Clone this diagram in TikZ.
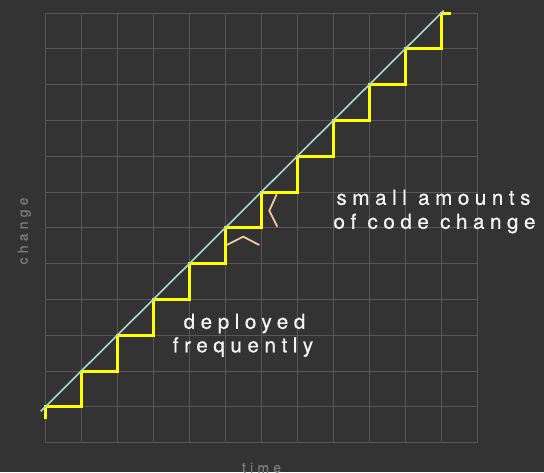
\documentclass[tikz,border=0pt]{standalone}
\usepackage{fontspec}
\setmainfont{TeX Gyre Heros}
\newfontfamily\notefont[LetterSpace=27,FakeBold=0.7]{TeX Gyre Heros}
\newfontfamily\axisfont[LetterSpace=30,FakeBold=0.4]{TeX Gyre Heros}

\definecolor{bgdark}{HTML}{333333}
\definecolor{gridgray}{HTML}{575757}
\definecolor{stepyellow}{HTML}{FFFF00}
\definecolor{trendcyan}{HTML}{A6D9D5}
\definecolor{markpeach}{HTML}{F2C79E}
\definecolor{notewhite}{HTML}{F4F4F4}
\definecolor{axisgray}{HTML}{7A7A7A}

\tikzset{
  gridline/.style={draw=gridgray, line width=1pt},
  stairs/.style={draw=stepyellow, line width=3pt, line join=miter},
  trend/.style={draw=trendcyan, line width=1.6pt},
  tick mark/.style={draw=markpeach, line width=1.8pt, line join=miter},
  note/.style={text=notewhite, inner sep=0pt, anchor=base,
    font=\notefont\fontsize{20.6}{20.6}\selectfont},
  axislabel/.style={text=axisgray, inner sep=0pt, anchor=base,
    font=\axisfont\fontsize{14}{14}\selectfont},
}

\begin{document}
\begin{tikzpicture}[x=1pt,y=-1pt]
  % canvas
  \fill[bgdark] (0,0) rectangle (544,472);
  \useasboundingbox (0,0) rectangle (544,472);

  % 12 x 12 grid
  \def\gx{45.3}\def\gy{13}\def\cw{36}\def\ch{35.8}
  \foreach \i in {0,...,12}{
    \draw[gridline] ({\gx+\cw*\i},{\gy}) -- ({\gx+\cw*\i},{\gy+12*\ch});
    \draw[gridline] ({\gx},{\gy+\ch*\i}) -- ({\gx+12*\cw},{\gy+\ch*\i});
  }

  % frequent small deployments: a staircase along the grid
  \draw[stairs] ({\gx},{\gy+11*\ch+12}) -- ({\gx},{\gy+11*\ch})
    \foreach \k in {1,...,11}{
      -- ({\gx+\cw*\k},{\gy+\ch*(12-\k)}) -- ({\gx+\cw*\k},{\gy+\ch*(11-\k)})
    }
    -- ({\gx+11*\cw+10},{\gy});

  % steady trend line through the step corners
  \draw[trend] ({\gx-4.6},{\gy+11*\ch+4.6}) -- ({\gx+11*\cw+2.4},{\gy-2.4});

  % small marks pointing at one step
  \draw[tick mark] (226.7,245) -- (243.3,236.7) -- (259.3,245);
  \draw[tick mark] (276.7,194.3) -- (269.3,210.7) -- (277.3,226.7);

  % annotations
  \node[note] (amounts) at (433.5,204.8) {small amounts};
  \node[note] (codechange) at (434.5,228.8) {of code change};
  \node[note] (deployed) at (244.5,328.8) {deployed};
  \node[note] (frequently) at (243,352.3) {frequently};

  % axis labels
  \node[axislabel] (timelabel) at (261.5,472.5) {time};
  \node[axislabel, rotate=90] (changelabel) at (27.8,231) {change};
\end{tikzpicture}
\end{document}
